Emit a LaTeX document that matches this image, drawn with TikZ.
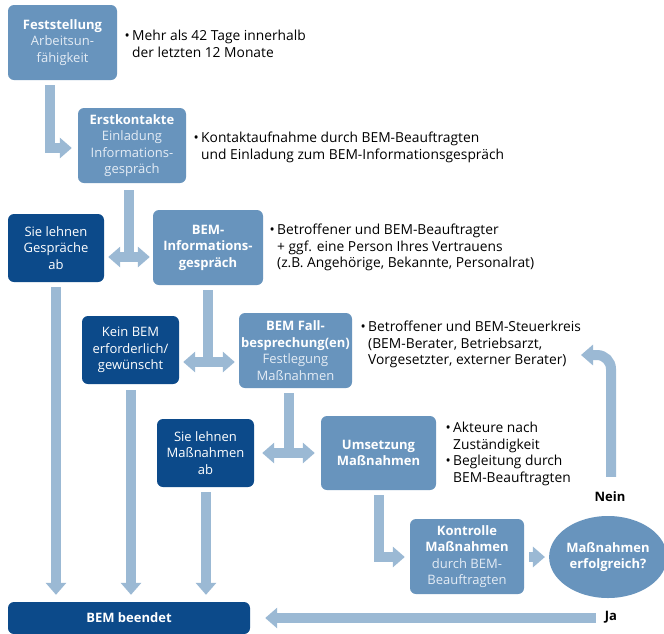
\documentclass[tikz,border=0pt]{standalone}
\usepackage{fontspec}
\setmainfont{Open Sans}
\usetikzlibrary{arrows.meta,shapes.geometric,calc}
\definecolor{midblue}{HTML}{6894BD}
\definecolor{darkblue}{HTML}{0C4A8A}
\definecolor{arrowblue}{HTML}{9BB9D4}
\definecolor{subtext}{HTML}{E4ECF5}
\newcommand{\sub}[1]{\textcolor{subtext}{#1}}
\newcommand{\bul}{\llap{•\hspace{2.5pt}}}
\begin{document}
\begin{tikzpicture}[x=1pt,y=-1pt,
  box/.style={rounded corners=6pt, text=white, align=center, inner sep=0pt,
    font=\fontsize{13}{16.5}\selectfont},
  midbox/.style={box, fill=midblue},
  darkbox/.style={box, fill=darkblue},
  stem/.style={draw=arrowblue, line width=10pt},
  flow/.style={draw=arrowblue, line width=10pt, -{Triangle[width=20pt,length=12pt]}},
  biflow/.style={draw=arrowblue, line width=10pt,
    {Triangle[width=20pt,length=12pt]}-{Triangle[width=20pt,length=12pt]}},
  note/.style={anchor=north west, align=left, inner sep=0pt,
    font=\fontsize{13.8}{16.5}\selectfont, text=black},
  lbl/.style={inner sep=0pt, font=\bfseries\fontsize{13}{16.5}\selectfont, text=black}]
\useasboundingbox (0,0) rectangle (664,633);
\clip (0,0) rectangle (664,633);
\fill[white] (0,0) rectangle (664,633);

% boxes
\node[midbox, minimum width=109pt, minimum height=75pt] (fest) at (62.5,42.5)
  {\textbf{Feststellung}\\\sub{Arbeitsun-}\\\sub{fähigkeit}};
\node[midbox, minimum width=108pt, minimum height=75pt] (erst) at (132,145.5)
  {\textbf{Erstkontakte}\\\sub{Einladung}\\\sub{Informations-}\\\sub{gespräch}};
\node[darkbox, minimum width=96pt, minimum height=68pt] (ablG) at (56,248)
  {Sie lehnen\\Gespräche\\ab};
\node[midbox, minimum width=110pt, minimum height=75pt, font=\bfseries\fontsize{13}{16.5}\selectfont] (info) at (208,247.5)
  {BEM-\\Informations-\\gespräch};
\node[darkbox, minimum width=97pt, minimum height=68pt] (kein) at (130.5,350)
  {Kein BEM\\erforderlich/\\gewünscht};
\node[midbox, minimum width=113pt, minimum height=75pt] (fall) at (295.5,350.5)
  {\textbf{BEM Fall-}\\\textbf{besprechung(en)}\\\sub{Festlegung}\\\sub{Maßnahmen}};
\node[darkbox, minimum width=97pt, minimum height=68pt] (ablM) at (205.5,453)
  {Sie lehnen\\Maßnahmen\\ab};
\node[midbox, minimum width=115pt, minimum height=74pt, font=\bfseries\fontsize{13}{16.5}\selectfont] (ums) at (378.5,453)
  {Umsetzung\\Maßnahmen};
\node[midbox, minimum width=114pt, minimum height=75pt] (kontr) at (467,556.5)
  {\textbf{Kontrolle}\\\textbf{Maßnahmen}\\\sub{durch BEM-}\\\sub{Beauftragten}};
\node[ellipse, fill=midblue, text=white, align=center, inner sep=0pt,
  minimum width=112pt, minimum height=82pt,
  font=\bfseries\fontsize{13}{16.5}\selectfont] (ell) at (608,557)
  {Maßnahmen\\erfolgreich?};
\node[darkbox, minimum width=242pt, minimum height=32pt, font=\bfseries\fontsize{13}{16.5}\selectfont] (beendet) at (129,618)
  {BEM beendet};

% notes
\node[note] (n1) at (132,30) {\bul Mehr als 42 Tage innerhalb\\der letzten 12 Monate};
\node[note] (n2) at (201,132) {\bul Kontaktaufnahme durch BEM-Beauftragten\\und Einladung zum BEM-Informationsgespräch};
\node[note] (n3) at (277,224) {\bul Betroffener und BEM-Beauftragter\\+ ggf. eine Person Ihres Vertrauens\\(z.B. Angehörige, Bekannte, Personalrat)};
\node[note] (n4) at (368,321) {\bul Betroffener und BEM-Steuerkreis\\(BEM-Berater, Betriebsarzt,\\Vorgesetzter, externer Berater)};
\node[note] (n5) at (453,422) {\bul Akteure nach\\Zuständigkeit\\\bul Begleitung durch\\BEM-Beauftragten};

% labels
\node[lbl] (nein) at (610,497) {Nein};
\node[lbl] (ja) at (611,617) {Ja};
\coordinate (neintip) at (581,355);

% junctions
\coordinate (j1) at (129,257);
\coordinate (j2) at (208,362);
\coordinate (j3) at (289,453);

% arrows
\draw[flow] ($(fest.south)+(-12.5,5)$) |- ($(erst.west)+(-6,2.5)$);

\draw[stem] ($(erst.south)+(-3,7)$) -- (j1);
\draw[biflow] ($(ablG.east |- j1)+(4,0)$) -- ($(info.west |- j1)+(-3,0)$);

\draw[stem] ($(info.south)+(0,5)$) -- (j2);
\draw[biflow] ($(kein.east |- j2)+(4,0)$) -- ($(fall.west |- j2)+(-4,0)$);

\draw[stem] ($(fall.south)+(-6.5,5)$) -- (j3);
\draw[biflow] ($(ablM.east |- j3)+(8,0)$) -- ($(ums.west |- j3)+(-6,0)$);

\draw[flow] ($(ums.south)+(0.5,5)$) |- ($(kontr.west)+(-5,0.5)$);
\draw[flow] ($(kontr.east)+(5,0.5)$) -- ($(ell.west)+(-4,0)$);

\draw[flow, rounded corners=14pt] ($(nein.north)+(1,-15)$) |- (neintip);
\draw[flow] ($(ja.west)+(-9,1)$) -- ($(beendet.east)+(15,0)$);

\draw[flow] ($(ablG.south)+(0,5)$) -- ($(ablG.south |- beendet.north)+(0,-7)$);
\draw[flow] ($(kein.south)+(0.5,6)$) -- ($(kein.south |- beendet.north)+(0.5,-7)$);
\draw[flow] ($(ablM.south)+(0.5,5)$) -- ($(ablM.south |- beendet.north)+(0.5,-7)$);
\end{tikzpicture}
\end{document}
